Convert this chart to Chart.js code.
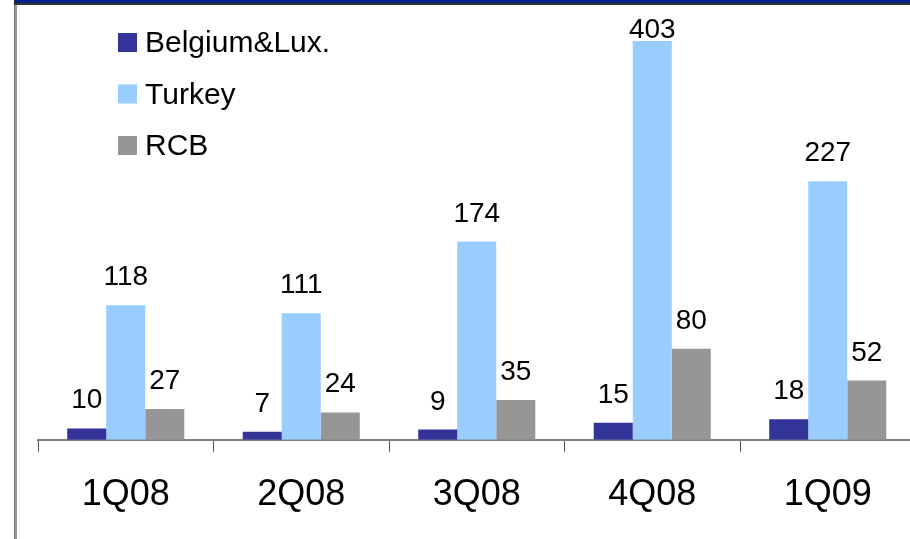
<!DOCTYPE html>
<html>
<head>
<meta charset="utf-8">
<script src="https://cdn.jsdelivr.net/npm/chart.js@4.4.1/dist/chart.umd.min.js"></script>
<style>
  html, body { margin: 0; padding: 0; background: #fff; overflow: hidden; }
  #wrap { position: relative; width: 910px; height: 539px; overflow: hidden; }
  #chart { position: absolute; left: 0; top: 0; }
  #topbar { position: absolute; left: 14px; top: 0; width: 896px; height: 3px; background: #00218a; border-left: 1px solid #222; border-bottom: 2px solid #333; }
  #leftline { position: absolute; left: 14px; top: 5px; width: 2px; height: 534px; background: #999; border-left: 1px solid #777; }
</style>
</head>
<body>
<div id="wrap">
  <canvas id="chart" width="916" height="539"></canvas>
  <div id="topbar"></div>
  <div id="leftline"></div>
</div>
<script>
// quarters and values
const quarters = ['1Q08', '2Q08', '3Q08', '4Q08', '1Q09'];
const belgiumLux = [10, 7, 9, 15, 18];
const turkey = [118, 111, 174, 403, 227];
const rcb = [27, 24, 35, 80, 52];

const fontFamily = '"Liberation Sans", Arial, sans-serif';

// numbers above the bars; a bar cut by the top of the plot gets its label just above the cut
const valueLabels = {
    id: 'valueLabels',
    afterDatasetsDraw(chart) {
        const ctx = chart.ctx;
        const yScale = chart.scales.y;
        ctx.save();
        ctx.font = '28px ' + fontFamily;
        ctx.fillStyle = '#000';
        ctx.textAlign = 'center';
        ctx.textBaseline = 'alphabetic';
        chart.data.datasets.forEach((ds, i) => {
            chart.getDatasetMeta(i).data.forEach((bar, j) => {
                const v = ds.data[j];
                const y = v > yScale.max ? chart.chartArea.top - 3 : bar.y - 20;
                ctx.fillText(String(v), bar.x, y);
            });
        });
        ctx.restore();
    }
};

// legend sits inside the plot, top left
const insideLegend = {
    id: 'insideLegend',
    afterDraw(chart) {
        const ctx = chart.ctx;
        ctx.save();
        ctx.font = '30px ' + fontFamily;
        ctx.textAlign = 'left';
        ctx.textBaseline = 'alphabetic';
        chart.data.datasets.forEach((ds, i) => {
            const top = 33 + i * 51.5;
            ctx.fillStyle = ds.backgroundColor;
            ctx.fillRect(118, top, 19, 19);
            ctx.fillStyle = '#000';
            ctx.fillText(ds.label, 145, top + 19);
        });
        ctx.restore();
    }
};

const ctx = document.getElementById('chart').getContext('2d');
const chart = new Chart(ctx, {
    type: 'bar',
    data: {
        labels: quarters,
        datasets: [
            { label: 'Belgium&Lux.', data: belgiumLux, backgroundColor: '#333399' },
            { label: 'Turkey', data: turkey, backgroundColor: '#99ccff' },
            { label: 'RCB', data: rcb, backgroundColor: '#969696' }
        ]
    },
    options: {
        responsive: false,
        animation: false,
        events: [],
        datasets: {
            bar: {
                categoryPercentage: 0.667,
                barPercentage: 1.0,
                clip: 0
            }
        },
        layout: {
            padding: { left: 38, right: 0.5, top: 41, bottom: 0 }
        },
        plugins: {
            legend: { display: false },
            tooltip: { enabled: false }
        },
        scales: {
            x: {
                grid: {
                    display: true,
                    drawOnChartArea: false,
                    drawTicks: true,
                    tickLength: 12,
                    color: '#555',
                    lineWidth: 1,
                    offset: true
                },
                border: { display: true, color: '#808080', width: 2 },
                ticks: {
                    color: '#000',
                    padding: 22,
                    font: { family: fontFamily, size: 36 }
                }
            },
            y: {
                display: false,
                min: 0,
                max: 350
            }
        }
    },
    plugins: [valueLabels, insideLegend]
});
</script>
</body>
</html>
